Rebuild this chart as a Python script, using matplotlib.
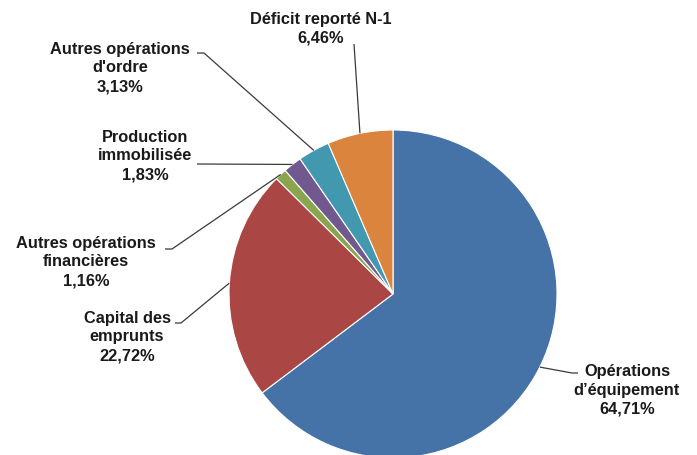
import numpy as np
import matplotlib
matplotlib.use("Agg")
import matplotlib.pyplot as plt

# Répartition des dépenses d'investissement
labels = ["Opérations\nd’équipement", "Capital des\nemprunts", "Autres opérations\nfinancières",
          "Production\nimmobilisée", "Autres opérations\nd'ordre", "Déficit reporté N-1"]
values = [64.71, 22.72, 1.16, 1.83, 3.13, 6.46]
colors = ["#4572A7", "#AA4643", "#89A54E", "#71588F", "#4198AF", "#DB843D"]

W, H = 697, 455
fig = plt.figure(figsize=(W / 100, H / 100), dpi=100)
ax = fig.add_axes([0, 0, 1, 1])

cx, cy, r = 393, H - 294, 164
wedges, _ = ax.pie(values, colors=colors, startangle=90, counterclock=False,
                   center=(cx, cy), radius=r,
                   wedgeprops=dict(edgecolor="white", linewidth=0.8))
ax.set_xlim(0, W)
ax.set_ylim(0, H)
ax.set_aspect("equal")
ax.axis("off")

# label block centre (px from top-left) and leader-line path towards the wedge
layout = [
    dict(text=(627, 390), path=[(578, 373), (572, 373)]),
    dict(text=(127, 337), path=[(175, 323), (181, 323)]),
    dict(text=(86, 262), path=[(165, 249), (172, 249)]),
    dict(text=(145, 156), path=[(197, 164)]),
    dict(text=(120, 68), path=[(197, 53), (204, 53)]),
    dict(text=(321, 29), path=[(354, 44)]),
]

for w, lab, v, lay in zip(wedges, labels, values, layout):
    mid = np.deg2rad((w.theta1 + w.theta2) / 2)
    ex, ey = cx + r * np.cos(mid), cy + r * np.sin(mid)
    pts = [(x, H - y) for x, y in lay["path"]] + [(ex, ey)]
    xs, ys = zip(*pts)
    ax.plot(xs, ys, color="#3a3a3a", lw=0.9, solid_capstyle="butt", zorder=1)
    pct = f"{v:.2f}".replace(".", ",") + "%"
    tx, ty = lay["text"]
    ax.text(tx, H - ty, f"{lab}\n{pct}", ha="center", va="center",
            fontsize=11.8, fontweight="bold", family="Liberation Sans",
            color="#1a1a1a", linespacing=1.32)

fig.savefig("out.png", dpi=100, facecolor="white")
